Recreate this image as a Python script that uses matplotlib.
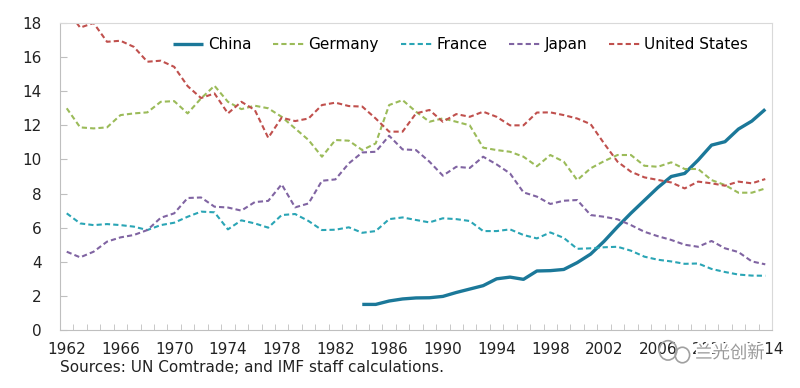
import numpy as np
import matplotlib
matplotlib.use("Agg")
import matplotlib.pyplot as plt
import matplotlib.patheffects as pe
from matplotlib.patches import Ellipse
from matplotlib.ticker import MultipleLocator, FixedLocator

years = list(range(1962, 2015))
china_years = list(range(1984, 2015))

china = [1.5, 1.5, 1.7, 1.82, 1.88, 1.89, 1.97, 2.2, 2.4, 2.6, 3.0, 3.1, 2.97, 3.46,
         3.48, 3.55, 3.95, 4.45, 5.2, 6.05, 6.85, 7.6, 8.35, 9.0, 9.18, 9.96, 10.84,
         11.04, 11.78, 12.25, 12.94]
germany = [13.0, 11.88, 11.82, 11.88, 12.6, 12.7, 12.76, 13.38, 13.42, 12.7, 13.58, 14.32,
           13.38, 12.95, 13.15, 13.0, 12.5, 11.82, 11.14, 10.16, 11.14, 11.1, 10.55, 10.94,
           13.19, 13.48, 12.8, 12.21, 12.41, 12.21, 12.0, 10.69, 10.55, 10.45, 10.16, 9.6,
           10.26, 9.87, 8.79, 9.48, 9.9, 10.26, 10.26, 9.63, 9.57, 9.83, 9.44, 9.44, 8.79,
           8.5, 8.05, 8.05, 8.3]
france = [6.84, 6.25, 6.15, 6.21, 6.15, 6.06, 5.86, 6.15, 6.29, 6.64, 6.94, 6.9, 5.9, 6.43,
          6.25, 6.0, 6.74, 6.8, 6.39, 5.86, 5.88, 6.02, 5.7, 5.8, 6.5, 6.6, 6.45, 6.31, 6.55,
          6.5, 6.39, 5.8, 5.8, 5.9, 5.57, 5.37, 5.72, 5.4, 4.76, 4.79, 4.85, 4.88, 4.65, 4.3,
          4.12, 4.02, 3.88, 3.9, 3.58, 3.4, 3.25, 3.19, 3.18]
japan = [4.59, 4.26, 4.59, 5.18, 5.43, 5.57, 5.86, 6.58, 6.84, 7.74, 7.77, 7.23, 7.18, 7.0,
         7.5, 7.57, 8.54, 7.19, 7.42, 8.75, 8.83, 9.77, 10.41, 10.45, 11.39, 10.59, 10.55,
         9.87, 9.05, 9.57, 9.5, 10.16, 9.71, 9.18, 8.07, 7.82, 7.39, 7.58, 7.62, 6.74, 6.64,
         6.49, 6.15, 5.76, 5.5, 5.28, 5.0, 4.88, 5.22, 4.79, 4.57, 4.02, 3.85]
united_states = [18.8, 17.73, 18.0, 16.9, 16.96, 16.6, 15.73, 15.79, 15.43, 14.3, 13.6, 13.87,
                 12.7, 13.38, 12.9, 11.27, 12.45, 12.25, 12.4, 13.19, 13.33, 13.13, 13.1, 12.4,
                 11.63, 11.63, 12.7, 12.9, 12.21, 12.66, 12.5, 12.8, 12.5, 12.0, 12.0, 12.75,
                 12.76, 12.6, 12.4, 12.07, 10.94, 9.87, 9.28, 8.95, 8.8, 8.65, 8.3, 8.7, 8.6,
                 8.46, 8.7, 8.6, 8.85]

year_labels = list(range(1962, 2015, 4))
source_note = "Sources: UN Comtrade; and IMF staff calculations."
watermark = "兰光创新"

fs = 11
fig = plt.figure(figsize=(8, 3.88), dpi=100)
ax = fig.add_axes([0.075, 0.1495, 0.89, 0.7912])

dash = (2.5, 1.5)
ax.plot(china_years, china, color="#1B7899", lw=2.4, label="China", solid_capstyle="butt")
ax.plot(years, germany, color="#9BBB59", lw=1.5, dashes=dash, label="Germany")
ax.plot(years, france, color="#2AA5B5", lw=1.5, dashes=dash, label="France")
ax.plot(years, japan, color="#8064A2", lw=1.5, dashes=dash, label="Japan")
ax.plot(years, united_states, color="#C0504D", lw=1.5, dashes=dash, label="United States")

ax.set_xlim(1961.5, 2014.5)
ax.set_ylim(0, 18)
ax.yaxis.set_major_locator(MultipleLocator(2))
ax.xaxis.set_major_locator(FixedLocator(year_labels))
ax.xaxis.set_minor_locator(FixedLocator(np.arange(1962.5, 2014.5, 1)))

for s in ax.spines.values():
    s.set_color("#D9D9D9")
ax.spines["left"].set_color("#BFBFBF")
ax.spines["bottom"].set_color("#BFBFBF")

ax.tick_params(axis="x", which="major", length=0, pad=9, labelsize=fs, labelcolor="#222222")
ax.tick_params(axis="x", which="minor", direction="in", length=4, color="#BFBFBF")
ax.tick_params(axis="y", direction="in", length=5, color="#BFBFBF", pad=13,
               labelsize=fs, labelcolor="#222222")

ax.legend(loc="center", bbox_to_anchor=(0.5625, 0.93), ncol=5, frameon=False,
          fontsize=fs, handlelength=2.0, handletextpad=0.3, columnspacing=1.45)

fig.text(0.075, 0.052, source_note, fontsize=fs, color="#222222", ha="left", va="center")

# watermark (wechat-like icon + text)
for cx, cy, w, h in [(0.835, 0.097, 0.022, 0.05), (0.853, 0.085, 0.018, 0.04)]:
    fig.add_artist(Ellipse((cx, cy), w, h, transform=fig.transFigure, fill=False,
                           ec="#A0A0A0", lw=1.2))
fig.text(0.869, 0.09, watermark, fontsize=12.5, color="#9A9A9A", ha="left", va="center",
         family=["Noto Sans CJK SC", "DejaVu Sans"],
         path_effects=[pe.withStroke(linewidth=3, foreground="white")])

fig.savefig("out.png", dpi=100)
